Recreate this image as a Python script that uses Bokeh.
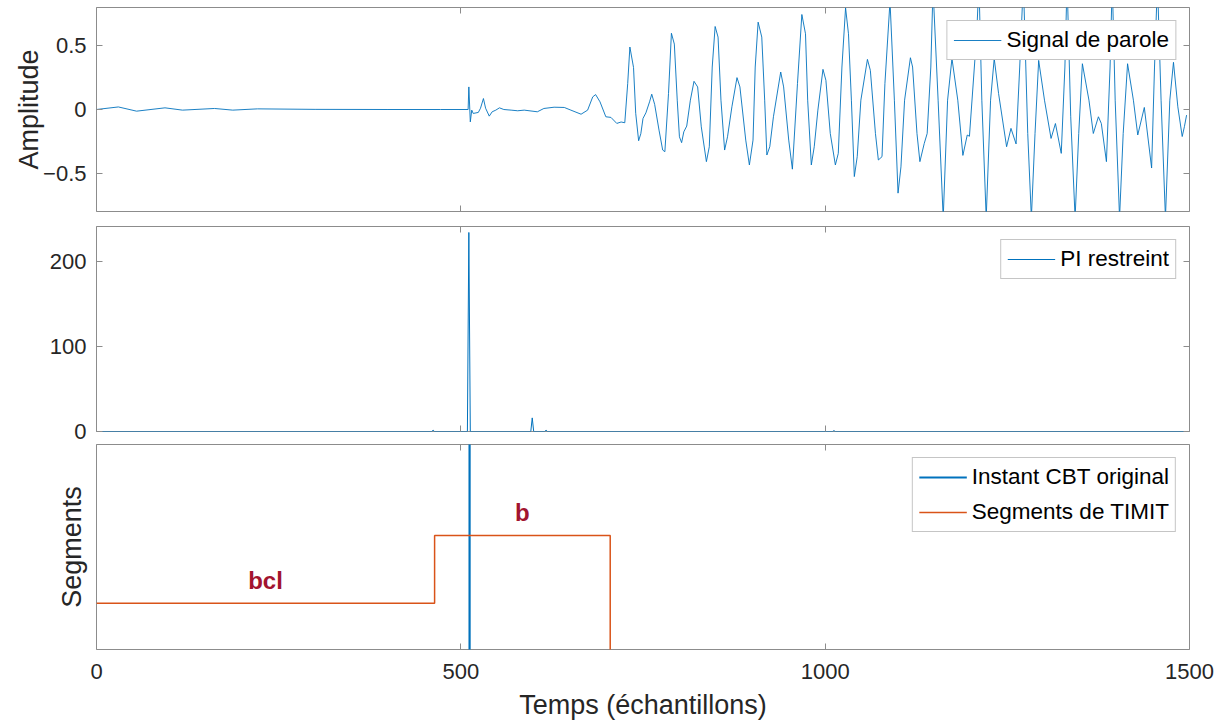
from bokeh.plotting import figure
from bokeh.layouts import column
from bokeh.models import Range1d, LinearAxis, FixedTicker, CustomJSTickFormatter
from bokeh.core.properties import value
from bokeh.embed import file_html
from bokeh.resources import INLINE

# ---------------- data ----------------
sig_x = [0, 30, 55, 94, 118, 162, 187, 221, 300, 400, 472, 510,
         511, 513, 515, 517, 524, 527, 531, 534, 539, 543, 548, 553, 559, 569, 578, 587,
         605, 614, 628, 642, 651, 665, 674, 681, 685, 691, 699, 706, 714, 720, 725,
         729, 732, 737, 740, 744, 747, 750, 754, 759, 762, 766, 772, 777, 780,
         785, 789, 793, 797, 800, 803, 806, 810, 815, 820, 825, 830, 837, 841,
         845, 849, 853, 857, 862, 866, 872, 879, 883, 891, 896, 901,
         904, 908, 913, 917, 920, 924, 929, 939, 943, 950, 955,
         962, 968, 973, 976, 981, 985, 990, 997, 1001, 1007, 1014, 1018,
         1023, 1028, 1032, 1036, 1040, 1044, 1049, 1058, 1062, 1069, 1073, 1078,
         1082, 1089, 1095, 1100, 1104, 1109, 1117, 1120, 1126, 1130, 1136, 1140,
         1145, 1148, 1155, 1162, 1168, 1174, 1182, 1189, 1195, 1198,
         1208, 1211, 1215, 1221, 1227, 1232, 1238, 1249, 1255, 1262,
         1267, 1272, 1278, 1283, 1288, 1293, 1301, 1310, 1316, 1324,
         1329, 1332, 1337, 1343, 1348, 1353, 1362, 1368, 1375, 1379, 1386,
         1391, 1394, 1398, 1404, 1409, 1415, 1423, 1429, 1438, 1448,
         1452, 1456, 1461, 1467, 1473, 1478, 1484, 1490, 1493, 1496]
sig_y = [0.0, 0.02, -0.013, 0.013, -0.005, 0.008, -0.005, 0.005, 0.001, 0.0, 0.0, 0.0,
         0.177, -0.097, -0.005, -0.031, -0.023, 0.01, 0.086, 0.01, -0.052, -0.018, -0.005, 0.013, 0.0, -0.005, -0.01, -0.005,
         -0.018, 0.008, 0.018, 0.016, -0.005, -0.037, -0.005, 0.099, 0.117, 0.06, -0.057, -0.062, -0.109, -0.098, -0.104,
         0.203, 0.49, 0.33, -0.03, -0.245, -0.19, -0.07, -0.026, 0.06, 0.12, 0.04, -0.162, -0.318, -0.331,
         0.125, 0.598, 0.513, 0.073, -0.214, -0.26, -0.175, -0.13, 0.073, 0.221, 0.177, -0.136, -0.409, -0.292,
         0.333, 0.651, 0.568, 0.073, -0.318, -0.214, 0.021, 0.25, 0.177, -0.24, -0.435, -0.24,
         0.333, 0.685, 0.568, 0.073, -0.357, -0.292, -0.057, 0.294, 0.177, -0.24, -0.468,
         0.203, 0.745, 0.594, 0.073, -0.435, -0.292, -0.005, 0.315, 0.229, -0.188, -0.435, -0.344,
         0.333, 0.797, 0.594, 0.073, -0.526, -0.37, 0.073, 0.393, 0.307, -0.188, -0.396, -0.37,
         0.203, 0.85, 0.073, -0.656, -0.45, 0.073, 0.406, 0.333, -0.188, -0.409, -0.266, -0.188,
         0.333, 0.95, 0.073, -0.85, 0.073, 0.4, 0.073, -0.36, -0.2, -0.21,
         0.594, 1.0, 0.073, -0.85, 0.073, 0.4, 0.125, -0.292, -0.148, -0.27,
         0.333, 1.0, -0.188, -0.85, -0.188, 0.385, 0.073, -0.227, -0.11, -0.344,
         0.333, 1.0, -0.057, -0.85, -0.188, 0.359, 0.073, -0.188, -0.057, -0.11, -0.409,
         0.333, 1.0, 0.073, -0.85, -0.188, 0.359, 0.073, -0.2, 0.016, -0.459,
         0.333, 1.0, 0.073, -0.85, 0.073, 0.37, 0.021, -0.212, -0.135, -0.044]

# restricted PI
pi_x = [0, 460, 462, 464, 509, 511, 513, 596, 598, 600, 615, 617, 619, 1010, 1012, 1014, 1500]
pi_y = [0, 0, 1.5, 0, 0, 234, 0, 0, 16, 0, 0, 1.5, 0, 0, 1, 0, 0]

# TIMIT segments
seg_names = ["bcl", "b"]
seg_bounds = [0, 464, 705]
seg_levels = [1, 2]
cbt_instant = 512

x_ticks = [0, 500, 1000, 1500]
amp_ticks = [-0.5, 0, 0.5]
pi_ticks = [0, 100, 200]

# ---------------- style ----------------
FONT = "Liberation Sans"
BLUE = "#0072BD"
ORANGE = "#D95319"
DARKRED = "#A2142F"
GRAY = "#8c8c8c"
TXT = "#262626"

xr = Range1d(0, 1500)


def make_fig(yr, frame_h, top, bottom):
    p = figure(frame_width=1093, frame_height=frame_h, x_range=xr, y_range=yr,
               output_backend="svg", toolbar_location=None,
               min_border_left=96, min_border_right=25,
               min_border_top=top, min_border_bottom=bottom)
    p.grid.visible = False
    p.outline_line_color = GRAY
    p.outline_line_width = 1
    p.background_fill_color = "white"
    p.border_fill_color = "white"
    return p


def hide_labels(ax):
    ax.formatter = CustomJSTickFormatter(code="return ''")
    ax.major_label_text_font_size = "1px"
    ax.major_label_standoff = 0


def style_axes(p, yticks, show_xlabels=False):
    xa = p.xaxis[0]
    ya = p.yaxis[0]
    xa.ticker = FixedTicker(ticks=x_ticks)
    ya.ticker = FixedTicker(ticks=yticks)
    for ax in (xa, ya):
        ax.axis_line_color = None
        ax.major_tick_in = 6
        ax.major_tick_out = 0
        ax.major_tick_line_color = GRAY
        ax.minor_tick_line_color = None
        ax.major_label_text_font = FONT
        ax.major_label_text_font_size = "22px"
        ax.major_label_text_color = TXT
        ax.axis_label_text_font = FONT
        ax.axis_label_text_font_size = "27px"
        ax.axis_label_text_font_style = "normal"
        ax.axis_label_text_color = TXT
    if show_xlabels:
        xa.major_label_standoff = 14
    else:
        hide_labels(xa)
    ya.major_label_standoff = 10
    # box ticks on top / right
    for loc, tk in (("above", x_ticks), ("right", yticks)):
        ax = LinearAxis(ticker=FixedTicker(ticks=tk), major_tick_in=6, major_tick_out=0,
                        major_tick_line_color=GRAY, minor_tick_line_color=None,
                        axis_line_color=None)
        hide_labels(ax)
        p.add_layout(ax, loc)
    return xa, ya


def style_legend(p):
    lg = p.legend[0]
    lg.location = "top_right"
    lg.margin = 13
    lg.border_line_color = GRAY
    lg.border_line_width = 1
    lg.label_text_font = FONT
    lg.label_text_font_size = "22.5px"
    lg.label_text_color = "black"
    lg.glyph_width = 48
    lg.label_height = 26
    lg.glyph_height = 26
    lg.padding = 6
    lg.spacing = 9
    lg.label_standoff = 5
    lg.background_fill_alpha = 1


# ---- top: speech signal ----
p1 = make_fig(Range1d(-0.8, 0.8), 204, 7, 7)
p1.line(sig_x, sig_y, line_color=BLUE, line_width=0.9, legend_label="Signal de parole")
xa1, ya1 = style_axes(p1, amp_ticks)
ya1.axis_label = "Amplitude"
ya1.axis_label_standoff = -4
style_legend(p1)

# ---- middle: restricted PI ----
p2 = make_fig(Range1d(0, 241), 205, 8, 13)
p2.line(pi_x, pi_y, line_color=BLUE, line_width=1, legend_label="PI restreint")
style_axes(p2, pi_ticks)
style_legend(p2)

# ---- bottom: segments ----
p3 = make_fig(Range1d(0.32, 3.34), 205, 0, 60)
p3.line([cbt_instant, cbt_instant], [0, 4], line_color=BLUE, line_width=2.2,
        legend_label="Instant CBT original")
step_x = [seg_bounds[0]]
step_y = [seg_levels[0]]
for i, lv in enumerate(seg_levels):
    if i > 0:
        step_x.append(seg_bounds[i])
        step_y.append(lv)
    step_x.append(seg_bounds[i + 1])
    step_y.append(lv)
step_x.append(seg_bounds[-1])
step_y.append(0)
p3.line(step_x, step_y, line_color=ORANGE, line_width=1.5, legend_label="Segments de TIMIT")
mids = [(seg_bounds[i] + seg_bounds[i + 1]) / 2 for i in range(len(seg_names))]
p3.text(x=mids, y=seg_levels, text=seg_names, text_align="center", text_baseline="bottom",
        y_offset=-9, text_font=value(FONT), text_font_size="24px", text_font_style="bold",
        text_color=DARKRED)
xa3, ya3 = style_axes(p3, [], show_xlabels=True)
ya3.axis_label = "Segments"
ya3.axis_label_standoff = 10
xa3.axis_label = "Temps (échantillons)"
xa3.axis_label_standoff = 8
style_legend(p3)

layout = column(p1, p2, p3, spacing=0)
open("out.html", "w").write(file_html(layout, INLINE))
